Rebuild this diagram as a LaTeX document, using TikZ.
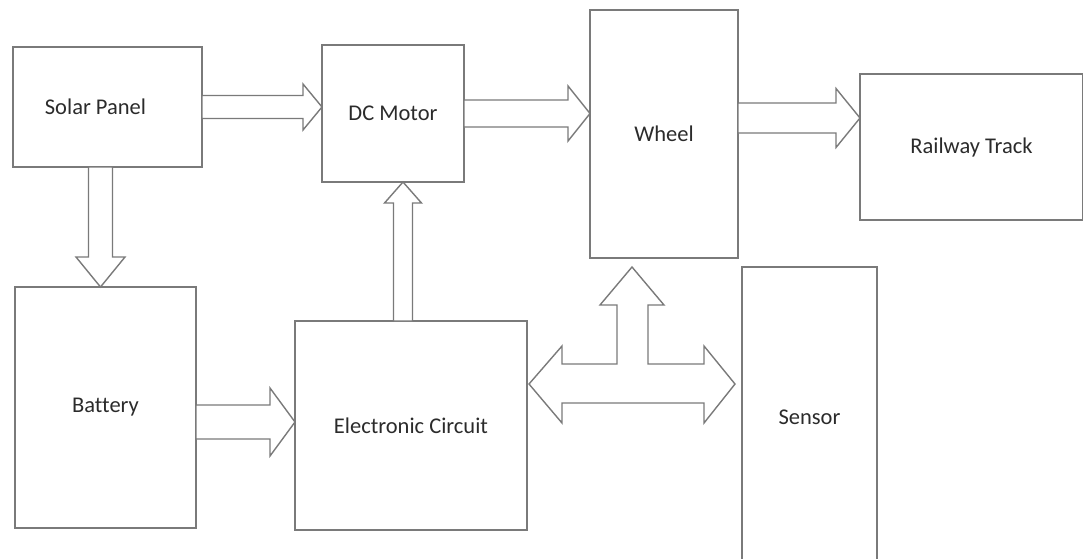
\documentclass[tikz,border=0pt]{standalone}
\usepackage{fontspec}
\setmainfont{Carlito}[Ligatures=CommonOff]
\usepackage{tikz}
\usetikzlibrary{calc,positioning}
\usepackage{xcolor}
\definecolor{lgray}{HTML}{7A7A7A}
\definecolor{tgray}{HTML}{2B2B2B}
\tikzset{
  part/.style = {draw=lgray, line width=1.7pt, rectangle, outer sep=0pt,
                 inner sep=0pt, align=center, text=tgray},
  flow/.style = {draw=lgray, line width=1.4pt, line join=miter, fill=white},
}
% fat block arrow: from, to, shaft half width, head half width, head length
\newcommand{\fatarrow}[5]{%
  \path (#1) coordinate (fa-a) (#2) coordinate (fa-b);
  \path ($(fa-b)!#5!(fa-a)$) coordinate (fa-h);
  \draw[flow] ($(fa-a)!#3!90:(fa-b)$) -- ($(fa-h)!#3!90:(fa-b)$)
    -- ($(fa-h)!#4!90:(fa-b)$) -- (fa-b) -- ($(fa-h)!#4!-90:(fa-b)$)
    -- ($(fa-h)!#3!-90:(fa-b)$) -- ($(fa-a)!#3!-90:(fa-b)$) -- cycle;}

\begin{document}
\begin{tikzpicture}[x=1pt,y=-1pt,font=\fontsize{22.5}{27}\selectfont]
\useasboundingbox (0,0) rectangle (1083,558);
\node[part,minimum width=189pt,minimum height=120pt] (solar) at (107.5,107) {Solar Panel\hspace*{24pt}};
\node[part,minimum width=142pt,minimum height=137pt] (dcmotor) at (393,113.5) {DC Motor};
\node[part,minimum width=148pt,minimum height=248pt] (wheel) at (664,134) {Wheel};
\node[part,minimum width=223pt,minimum height=146pt] (railway) at (971.5,147) {Railway Track};
\node[part,minimum width=181pt,minimum height=241pt] (battery) at (105.5,407.5) {Battery};
\node[part,minimum width=232pt,minimum height=209pt] (ec) at (411,425.5) {Electronic Circuit};
\node[part,minimum width=135pt,minimum height=300pt] (sensor) at (809.5,417) {Sensor};
% arrow ends
\coordinate (s2b) at ([xshift=-7pt]solar.south);
\coordinate (w2r) at ([yshift=16pt]wheel.east);
\coordinate (b2e) at ([yshift=3.5pt]ec.west);
\coordinate (e2d) at ([xshift=-8pt]ec.north);
\fatarrow{solar.east}{solar.east -| dcmotor.west}{11.5pt}{23pt}{19pt}
\fatarrow{dcmotor.east}{dcmotor.east -| wheel.west}{13.5pt}{27.5pt}{22pt}
\fatarrow{w2r}{w2r -| railway.west}{15pt}{29.5pt}{24pt}
\fatarrow{s2b}{s2b |- battery.north}{12pt}{24.5pt}{30pt}
\fatarrow{b2e -| battery.east}{b2e}{17pt}{34pt}{25pt}
\fatarrow{e2d}{e2d |- dcmotor.south}{9.5pt}{18.5pt}{21pt}
% three-way arrow between circuit, wheel and sensor
\coordinate (tl) at ([xshift=2pt,yshift=41.5pt]ec.east);
\coordinate (tr) at ($(tl -| sensor.west)+(-7,0)$);
\coordinate (tu) at ([xshift=-32pt,yshift=-9pt]wheel.south);
\draw[flow] (tl) -- ++(33,-38) -- ++(0,18) -- ++(55,0) -- ++(0,-59) -- ++(-17,0)
  -- (tu) -- ++(32,38) -- ++(-16,0) -- ++(0,59) -- ++(56,0) -- ++(0,-18)
  -- (tr) -- ++(-31,39) -- ++(0,-20) -- ++(-142,0) -- ++(0,20) -- cycle;
\end{tikzpicture}
\end{document}
